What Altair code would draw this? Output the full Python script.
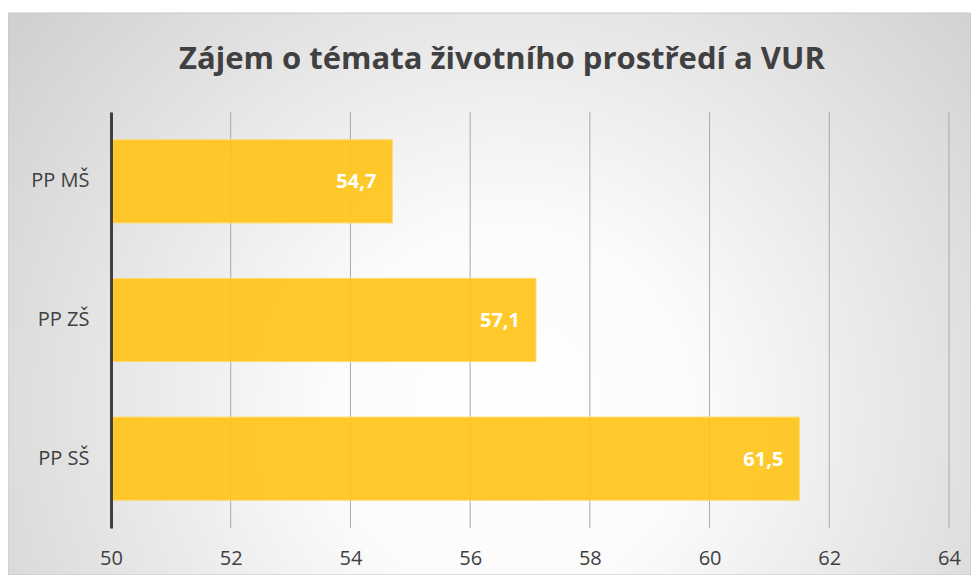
import altair as alt
import pandas as pd

TITLE = "Zájem o témata životního prostředí a VUR"
CATEGORIES = ["PP MŠ", "PP ZŠ", "PP SŠ"]
VALUES = [54.7, 57.1, 61.5]
TICKS = [50, 52, 54, 56, 58, 60, 62, 64]
AXIS_MIN = 50
AXIS_MAX = 64

W, H = 838, 416
PAD = {"left": 103, "top": 104, "right": 22, "bottom": 47}
FONT = "Open Sans"
TEXT_COLOR = "#404040"

bars_df = pd.DataFrame({"category": CATEGORIES, "value": VALUES})
ticks_df = pd.DataFrame({"tick": TICKS})
one = pd.DataFrame({"a": [0]})

x_scale = alt.Scale(domain=[AXIS_MIN, AXIS_MAX], nice=False, zero=False)
x_axis = alt.Axis(values=TICKS, grid=False, domain=False, ticks=False,
                  labelFontSize=20, labelFont=FONT, labelColor=TEXT_COLOR,
                  labelPadding=20, title=None, format="d", zindex=1,
                  labelFlush=False, labelOverlap=False)
y_enc = alt.Y("category:N", sort=CATEGORIES,
              scale=alt.Scale(paddingInner=0.4, paddingOuter=0.2),
              axis=alt.Axis(title=None, ticks=False, labelFontSize=20, labelFont=FONT,
                            labelColor=TEXT_COLOR, labelPadding=22,
                            domainColor=TEXT_COLOR, domainWidth=3, zindex=1))

grad = alt.RadialGradient(
    gradient="radial", x1=0.52, y1=0.62, r1=0, x2=0.52, y2=0.62, r2=0.78,
    stops=[alt.GradientStop(offset=0, color="#ffffff"),
           alt.GradientStop(offset=0.25, color="#fbfbfb"),
           alt.GradientStop(offset=1, color="#c4c4c4")])

bg = alt.Chart(one).mark_rect(fill=grad, stroke="#c8c8c8", strokeWidth=1).encode(
    x=alt.value(-PAD["left"]), x2=alt.value(W + PAD["right"]),
    y=alt.value(-99), y2=alt.value(H + PAD["bottom"]))

title = alt.Chart(one).mark_text(font=FONT, fontSize=31, fontWeight="bold",
                                 color=TEXT_COLOR, align="center",
                                 baseline="alphabetic").encode(
    x=alt.value(391), y=alt.value(-43), text=alt.value(TITLE))

grid = alt.Chart(ticks_df).mark_rule(color="#a9a9a9", strokeWidth=1).encode(
    x=alt.X("tick:Q", scale=x_scale, axis=x_axis),
    y=alt.value(0), y2=alt.value(H))

bars = alt.Chart(bars_df).transform_calculate(base=str(AXIS_MIN)).mark_bar(
    fill="#FFC41A", fillOpacity=0.92, stroke="#FFDA70", strokeWidth=1).encode(
    x=alt.X("value:Q", scale=x_scale, axis=x_axis),
    x2="base:Q",
    y=y_enc)

labels = alt.Chart(bars_df).transform_calculate(
    label="replace(format(datum.value, '.1f'), '.', ',')").mark_text(
    font=FONT, fontSize=20, fontWeight="bold", color="white",
    align="right", baseline="middle", dx=-16, dy=1).encode(
    x=alt.X("value:Q", scale=x_scale, axis=x_axis),
    y=y_enc,
    text="label:N")

chart = alt.layer(bg, grid, bars, labels, title).properties(
    width=W, height=H, autosize=alt.AutoSizeParams(type="none"), padding=PAD
).configure_view(stroke=None)

chart.save("out.html", embed_options={"renderer": "svg", "actions": False})
